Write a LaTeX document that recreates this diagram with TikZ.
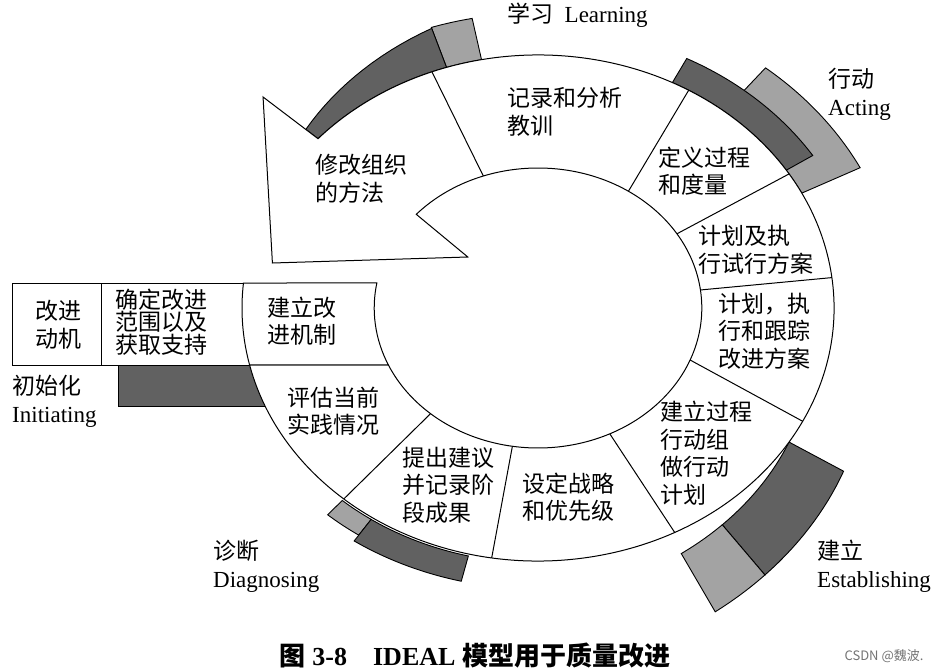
\documentclass[tikz,border=0pt]{standalone}
\usepackage{fontspec}
\setmainfont{Liberation Serif}
\newfontfamily\cjk{Noto Sans CJK SC}
\usetikzlibrary{calc}

\tikzset{
  ring/.style={draw, line width=1pt, fill=white},
  divider/.style={draw, line width=1pt},
  darkbar/.style={draw, line width=0.9pt, fill=black!62},
  lightbar/.style={draw, line width=0.9pt, fill=black!36},
  cell/.style={anchor=west, align=left, inner sep=0pt, font=\cjk\fontsize{23}{27.5}\selectfont},
  phase/.style={anchor=west, align=left, inner sep=0pt, font=\fontsize{23}{28}\selectfont},
}

\begin{document}
\begin{tikzpicture}[x=1pt, y=1pt]

% ---------- Parameter ----------
\def\cx{538}
\def\cy{-308}
\def\Ro{253}
\def\Ri{140}

\useasboundingbox (0,0) rectangle (936,-671);

% ===================
% links: Zeile der Initiating-Phase
% ===================
\draw[darkbar] (118,-365) rectangle (300,-406);
\draw[ring] (12,-283) rectangle (300,-365);
\draw[divider] (101,-283) -- (101,-365);

% ===================
% Ring mit Balken
% ===================
\begin{scope}[shift={(\cx,\cy)}, xscale=1.17]

  % Learning
  \draw[lightbar] (101:\Ro) arc[start angle=101, end angle=108, radius=\Ro]
    -- (108:295) arc[start angle=108, end angle=101, radius=295] -- cycle;
  \draw[darkbar] (108:\Ro) arc[start angle=108, end angle=138, radius=\Ro]
    -- plot[domain=138:108, samples=16] (\x:{267+0.9*(138-\x)}) -- cycle;

  % Acting
  \draw[lightbar] (27:\Ro) arc[start angle=27, end angle=51, radius=\Ro]
    -- (51:309) arc[start angle=51, end angle=27, radius=309] -- cycle;
  \draw[darkbar] (33:\Ro) arc[start angle=33, end angle=63, radius=\Ro]
    -- (63:280) arc[start angle=63, end angle=33, radius=280] -- cycle;

  % Establishing
  \draw[darkbar] plot[domain=-32:-54, samples=16] (\x:{253+0.68*(-32-(\x))})
    -- plot[domain=-54:-32, samples=16] (\x:{308+(-32-(\x))}) -- cycle;
  \draw[lightbar] plot[domain=-54:-63.5, samples=8] (\x:{253+0.68*(-32-(\x))})
    -- plot[domain=-63.5:-54, samples=8] (\x:{308+(-32-(\x))}) -- cycle;

  % Diagnosing
  \draw[lightbar] (-131:255) arc[start angle=-131, end angle=-124, radius=255]
    -- (-124:274) arc[start angle=-124, end angle=-131, radius=274] -- cycle;
  \draw[darkbar] (-124:255) arc[start angle=-124, end angle=-103.5, radius=255]
    -- (-103.5:281) arc[start angle=-103.5, end angle=-124, radius=281] -- cycle;

  % Ring mit Pfeilspitze
  \draw[ring] (-167:\Ro) arc[start angle=-167, end angle=138, radius=\Ro]
    -- (-235,211) -- (-227,45) -- (-60,51)
    -- (138:\Ri) arc[start angle=138, end angle=-156, radius=\Ri] -- cycle;

  % Feld links im Ring
  \draw[ring] (174.33:\Ro) arc[start angle=174.33, end angle=193, radius=\Ro]
    -- (204:\Ri) arc[start angle=204, end angle=169.7, radius=\Ri] -- cycle;

  % Trennlinien
  \foreach \a/\b in {109.5/111, 56.5/59.4, 32/32, 7.4/6.9, -21.8/-26.6,
                     -64/-62.5, -99/-99, -131/-131}
    \draw[divider] (\a:\Ri) -- (\b:\Ro);
\end{scope}

% ===================
% Texte
% ===================
\node[cell] (lessons)   at (507,-112) {记录和分析\\教训};
\node[cell] (modify)    at (315,-179) {修改组织\\的方法};
\node[cell] (define)    at (658,-171) {定义过程\\和度量};
\node[cell] (pilot)     at (698,-250) {计划及执\\行试行方案};
\node[cell] (improve)   at (718,-331) {计划，执\\行和跟踪\\改进方案};
\node[cell] (team)      at (660,-453) {建立过程\\行动组\\做行动\\计划};
\node[cell] (strategy)  at (522,-497) {设定战略\\和优先级};
\node[cell] (propose)   at (402,-485) {提出建议\\并记录阶\\段成果};
\node[cell] (assess)    at (287,-411) {评估当前\\实践情况};
\node[cell] (mechanism) at (267,-321) {建立改\\进机制};
\node[cell, font=\cjk\fontsize{23}{22.5}\selectfont] (scope) at (115,-322) {确定改进\\范围以及\\获取支持};
\node[cell] (motive)    at (35,-325) {改进\\动机};

\node[phase] (learn) at (507,-15) {{\cjk 学习}~~Learning};
\node[phase] (act)   at (828,-94) {{\cjk 行动}\\Acting};
\node[phase] (est)   at (817,-566) {{\cjk 建立}\\Establishing};
\node[phase] (diag)  at (213,-566) {{\cjk 诊断}\\Diagnosing};
\node[phase] (init)  at (12,-401) {{\cjk 初始化}\\Initiating};

\node[font=\fontsize{26}{30}\selectfont\bfseries, inner sep=0pt] (caption) at (475,-656)
  {{\cjk 图} 3-8\quad IDEAL {\cjk 模型用于质量改进}};
\node[font=\cjk\fontsize{13}{15}\selectfont, text=black!55, inner sep=0pt] (mark) at (884,-656)
  {CSDN @魏波.};

\end{tikzpicture}
\end{document}
